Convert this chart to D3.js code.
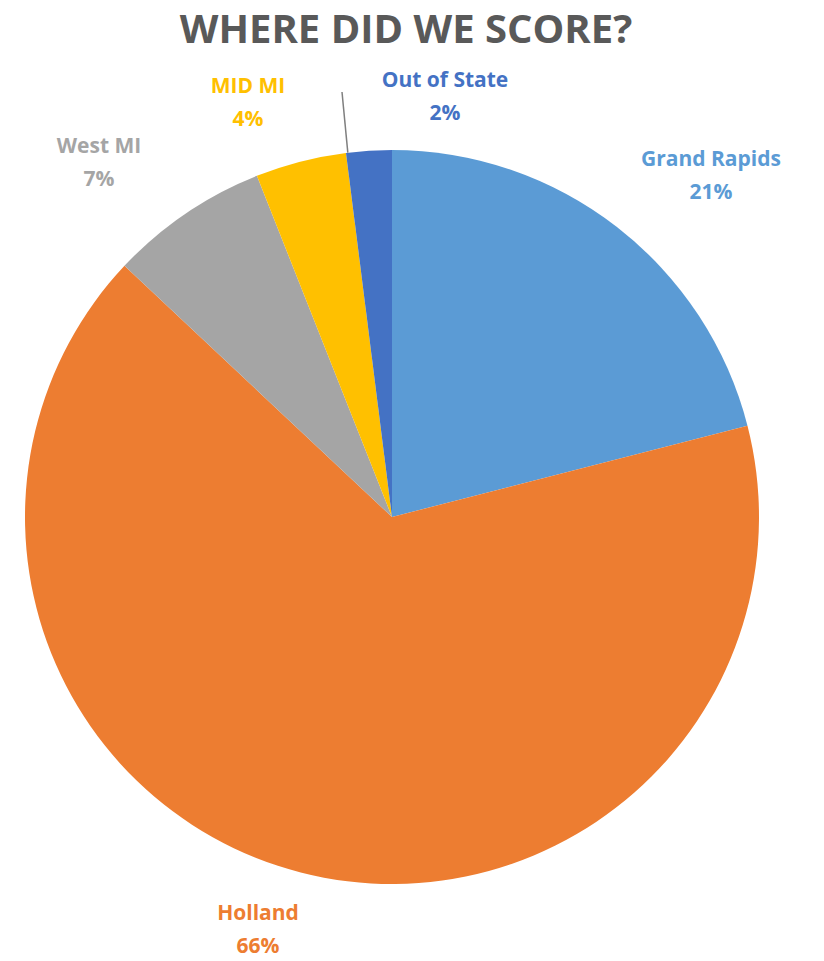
<!DOCTYPE html>
<html>
<head>
<meta charset="utf-8">
<script src="https://cdn.jsdelivr.net/npm/d3@7"></script>
<style>
  body { margin: 0; background: #fff; }
  text { font-family: "Open Sans", sans-serif; font-weight: bold; }
</style>
</head>
<body>
<div class="chart"></div>
<script>
var width = 824
var height = 961

var regions = ['Grand Rapids', 'Holland', 'West MI', 'MID MI', 'Out of State']
var shares = [21, 66, 7, 4, 2]
var colors = ['#5B9BD5', '#ED7D31', '#A5A5A5', '#FFC000', '#4472C4']
var labelColors = ['#5B9BD5', '#ED7D31', '#A5A5A5', '#FFC000', '#4472C4']
// where each label sits (label centre)
var labelPos = [[711, 166], [258, 920], [99, 153], [248, 93], [445, 87]]

var cx = 392
var cy = 517
var radius = 367

var svg = d3.select('.chart')
  .append('svg')
  .attr('width', width)
  .attr('height', height)

svg.append('text')
  .attr('x', 406)
  .attr('y', 43)
  .attr('text-anchor', 'middle')
  .style('font-size', '40px')
  .style('fill', '#595959')
  .text('WHERE DID WE SCORE?')

var pie = d3.pie().sort(null).value(function(d) { return d })
var arcs = pie(shares)
var arc = d3.arc().innerRadius(0).outerRadius(radius)

var g = svg.append('g').attr('transform', 'translate(' + cx + ',' + cy + ')')

g.selectAll('path')
  .data(arcs)
  .enter().append('path')
  .attr('d', arc)
  .style('fill', function(d, i) { return colors[i] })

// leader line for the thin slice
var last = arcs[4]
var a = last.startAngle + 0.005
svg.append('line')
  .attr('x1', 342)
  .attr('y1', 92)
  .attr('x2', cx + radius * Math.sin(a))
  .attr('y2', cy - radius * Math.cos(a))
  .style('stroke', '#7f7f7f')
  .style('stroke-width', 1.5)

var labels = svg.selectAll('.lbl')
  .data(arcs)
  .enter().append('text')
  .attr('class', 'lbl')
  .attr('text-anchor', 'middle')
  .style('font-size', '21px')
  .style('fill', function(d, i) { return labelColors[i] })

labels.append('tspan')
  .attr('x', function(d, i) { return labelPos[i][0] })
  .attr('y', function(d, i) { return labelPos[i][1] })
  .text(function(d, i) { return regions[i] })

labels.append('tspan')
  .attr('x', function(d, i) { return labelPos[i][0] })
  .attr('y', function(d, i) { return labelPos[i][1] + 33 })
  .text(function(d) { return d.value + '%' })
</script>
</body>
</html>
